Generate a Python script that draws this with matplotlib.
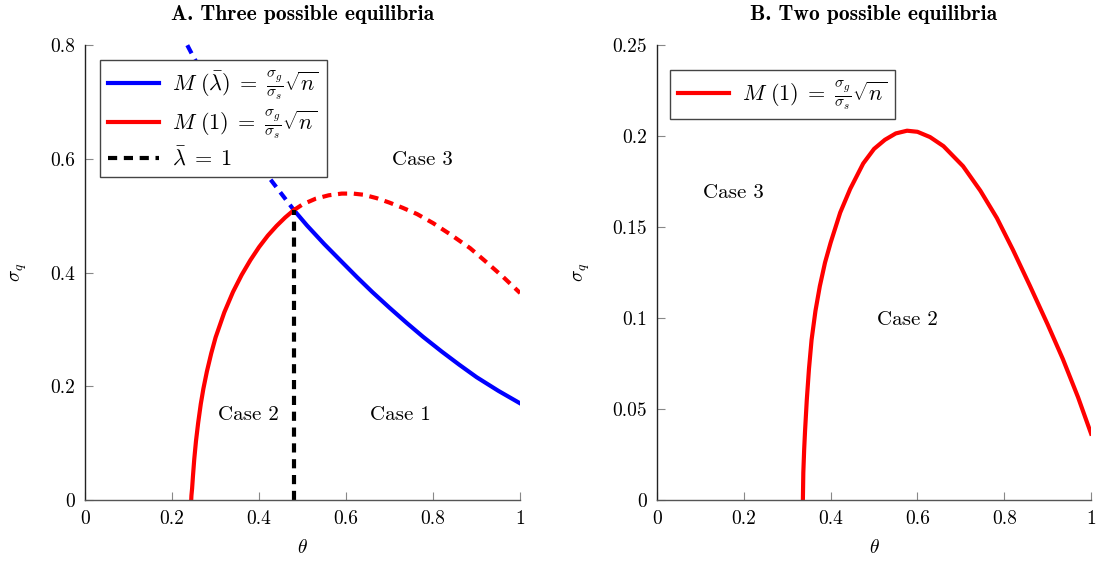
import matplotlib
matplotlib.use("Agg")
import matplotlib.pyplot as plt

# Panel A: red curve M(1) (solid up to the crossing, dashed after)
red_a_theta = [0.244, 0.2445, 0.246, 0.248, 0.251, 0.255, 0.260, 0.266, 0.272, 0.280, 0.290,
               0.300, 0.320, 0.340, 0.360, 0.380, 0.400, 0.420, 0.440, 0.460, 0.48]
red_a_sigma = [0.0, 0.008, 0.020, 0.042, 0.072, 0.104, 0.136, 0.169, 0.196, 0.226, 0.258,
               0.286, 0.330, 0.366, 0.396, 0.422, 0.445, 0.465, 0.482, 0.497, 0.510]
red_a_theta_d = [0.48, 0.50, 0.53, 0.56, 0.59, 0.616, 0.64, 0.67, 0.70, 0.73, 0.763, 0.80,
                 0.84, 0.885, 0.92, 0.96, 1.0]
red_a_sigma_d = [0.510, 0.520, 0.530, 0.536, 0.539, 0.539, 0.537, 0.531, 0.523, 0.514, 0.503,
                 0.487, 0.467, 0.443, 0.420, 0.393, 0.364]

# Panel A: blue curve M(lambda bar) (dashed before the crossing, solid after)
blue_a_theta_d = [0.235, 0.25, 0.27, 0.30, 0.33, 0.36, 0.39, 0.418, 0.45, 0.48]
blue_a_sigma_d = [0.80, 0.778, 0.752, 0.713, 0.675, 0.640, 0.604, 0.572, 0.540, 0.510]
blue_a_theta = [0.48, 0.51, 0.55, 0.59, 0.625, 0.66, 0.70, 0.74, 0.777, 0.82, 0.86, 0.90,
                0.95, 1.0]
blue_a_sigma = [0.510, 0.483, 0.450, 0.419, 0.392, 0.366, 0.338, 0.311, 0.287, 0.261, 0.238,
                0.216, 0.192, 0.170]

# Panel A: lambda bar = 1 boundary
lam_theta = [0.48, 0.48]
lam_sigma = [0.0, 0.51]

# Panel B: red curve M(1)
red_b_theta = [0.336, 0.337, 0.339, 0.341, 0.345, 0.350, 0.356, 0.365, 0.375, 0.387, 0.40,
               0.422, 0.445, 0.475, 0.50, 0.525, 0.55, 0.576, 0.60, 0.629, 0.66, 0.705,
               0.745, 0.783, 0.82, 0.859, 0.90, 0.935, 0.97, 1.0]
red_b_sigma = [0.0, 0.015, 0.028, 0.038, 0.055, 0.072, 0.088, 0.104, 0.1175, 0.1305, 0.1415,
               0.158, 0.171, 0.185, 0.193, 0.198, 0.2015, 0.203, 0.2024, 0.1995, 0.1945,
               0.1835, 0.170, 0.155, 0.1375, 0.1178, 0.0965, 0.0775, 0.0565, 0.0365]

xticks = [0, 0.2, 0.4, 0.6, 0.8, 1]
xtick_labels = ["0", "0.2", "0.4", "0.6", "0.8", "1"]
yticks_a = [0, 0.2, 0.4, 0.6, 0.8]
ytick_labels_a = ["0", "0.2", "0.4", "0.6", "0.8"]
yticks_b = [0, 0.05, 0.1, 0.15, 0.2, 0.25]
ytick_labels_b = ["0", "0.05", "0.1", "0.15", "0.2", "0.25"]

plt.rcParams["font.family"] = ["cmr10", "DejaVu Serif"]
plt.rcParams["mathtext.fontset"] = "cm"
plt.rcParams["axes.formatter.use_mathtext"] = True

RED = "#ff0000"
BLUE = "#0000ff"
LW = 3.0
DASH = (0, (2.2, 1.6))
AXC = "#555555"

LBL_BLUE = r"$M\ (\bar{\lambda})\;=\;\frac{\sigma_g}{\sigma_s}\sqrt{n}$"
LBL_RED = r"$M\ (1)\;=\;\frac{\sigma_g}{\sigma_s}\sqrt{n}$"
LBL_LAM = r"$\bar{\lambda}\;=\;1$"

fig = plt.figure(figsize=(10.96, 5.65), dpi=100)
ax_a = fig.add_axes([0.0776, 0.115, 0.397, 0.805])
ax_b = fig.add_axes([0.5995, 0.115, 0.396, 0.805])


def style(ax, yticks, ylabels, ymax):
    ax.set_xlim(0, 1)
    ax.set_ylim(0, ymax)
    ax.set_xticks(xticks)
    ax.set_xticklabels(xtick_labels)
    ax.set_yticks(yticks)
    ax.set_yticklabels(ylabels)
    for s in ["top", "right"]:
        ax.spines[s].set_visible(False)
    ax.spines["left"].set_color("#222222")
    ax.spines["bottom"].set_color(AXC)
    for s in ["left", "bottom"]:
        ax.spines[s].set_linewidth(1.0)
    ax.tick_params(direction="in", length=6, width=0.8, color="#888888",
                   labelsize=14, pad=7)
    ax.set_xlabel(r"$\theta$", fontsize=14, labelpad=8)
    ax.set_ylabel(r"$\sigma_q$", fontsize=14, labelpad=15)


def legend(ax, anchor):
    leg = ax.legend(loc="upper left", bbox_to_anchor=anchor, borderaxespad=0, fontsize=16,
                    fancybox=False, framealpha=1, edgecolor="#444444",
                    handlelength=2.3, borderpad=0.35, labelspacing=0.25, handletextpad=0.6)
    leg.get_frame().set_linewidth(1.0)


# ---- Panel A
ax_a.plot(blue_a_theta, blue_a_sigma, color=BLUE, lw=LW, label=LBL_BLUE)
ax_a.plot(blue_a_theta_d, blue_a_sigma_d, color=BLUE, lw=LW, ls=DASH, clip_on=False)
ax_a.plot(red_a_theta, red_a_sigma, color=RED, lw=LW, label=LBL_RED)
ax_a.plot(red_a_theta_d, red_a_sigma_d, color=RED, lw=LW, ls=DASH)
ax_a.plot(lam_theta, lam_sigma, color="black", lw=LW, ls=DASH, label=LBL_LAM)
style(ax_a, yticks_a, ytick_labels_a, 0.8)
ax_a.set_title("A. Three possible equilibria", fontfamily="cmb10", fontsize=15.5, pad=18)
ax_a.text(0.775, 0.598, "Case 3", fontsize=15, ha="center", va="center")
ax_a.text(0.375, 0.149, "Case 2", fontsize=15, ha="center", va="center")
ax_a.text(0.724, 0.149, "Case 1", fontsize=15, ha="center", va="center")
legend(ax_a, (0.034, 0.967))

# ---- Panel B
ax_b.plot(red_b_theta, red_b_sigma, color=RED, lw=LW, label=LBL_RED)
style(ax_b, yticks_b, ytick_labels_b, 0.25)
ax_b.set_title("B. Two possible equilibria", fontfamily="cmb10", fontsize=15.5, pad=18)
ax_b.text(0.175, 0.169, "Case 3", fontsize=15, ha="center", va="center")
ax_b.text(0.576, 0.099, "Case 2", fontsize=15, ha="center", va="center")
legend(ax_b, (0.030, 0.945))

fig.savefig("out.png", dpi=100)
